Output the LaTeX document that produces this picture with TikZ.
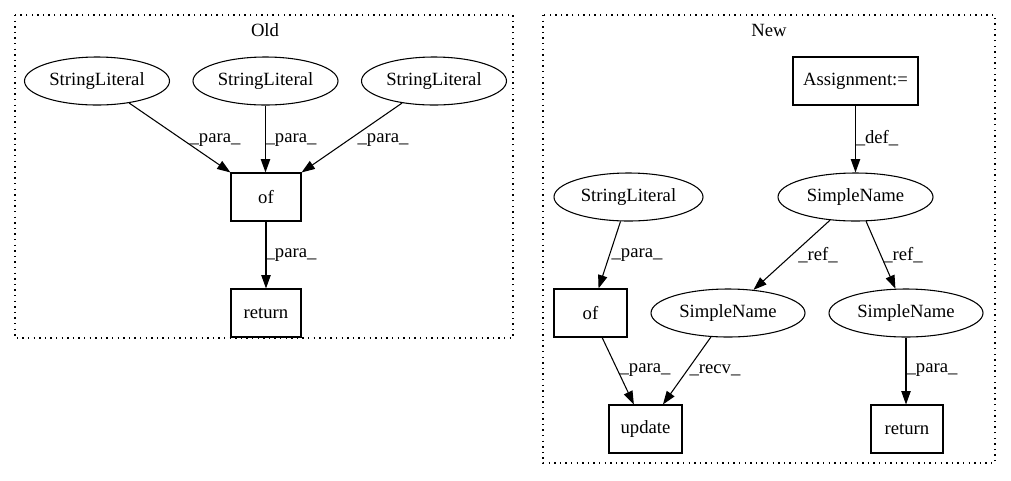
\documentclass[tikz,border=0pt]{standalone}
\usepackage{fontspec}
\setmainfont{Liberation Serif}
\usetikzlibrary{shapes.geometric,arrows.meta}
\begin{document}
\begin{tikzpicture}[x=0.75pt,y=-0.75pt,
  every node/.style={font=\fontsize{14pt}{16pt}\selectfont, inner sep=0pt},
  ell/.style={draw, ellipse, minimum width=108.75pt, minimum height=36pt, line width=0.8pt},
  box/.style={draw, rectangle, minimum height=36pt, line width=0.8pt},
  arr/.style={line width=0.8pt, -{Triangle[length=10pt,width=7pt]}},
  lbl/.style={fill=none},
  cluster/.style={line width=0.8pt, dash pattern=on 1pt off 3.2pt}]
\useasboundingbox (0,0) rectangle (1011,480);
% clusters
\draw[cluster] (15,15) rectangle (513,338);
\node (oldt) at (265,30) {Old};
\draw[cluster] (543,15) rectangle (995,463);
\node (newt) at (769,30) {New};
% Old nodes
\node[ell] (sl1) at (97,81) {StringLiteral};
\node[ell] (sl2) at (265.5,81) {StringLiteral};
\node[ell] (sl3) at (434,81) {StringLiteral};
\node[box, minimum width=52.5pt] (of1) at (266,197) {of};
\node[box, minimum width=52.5pt] (ret1) at (266,313) {return};
% Old edges
\draw[arr] (sl1) -- (of1.north west);
\draw[arr] (sl2) -- (sl2 |- of1.north);
\draw[arr] (sl3) -- (of1.north east);
\draw[arr] (of1) -- (ret1);
\node[lbl] (l1) at (215,140) {\_para\_};
\node[lbl] (l2) at (291,140) {\_para\_};
\node[lbl] (l3) at (383,140) {\_para\_};
\node[lbl] (l4) at (291,255) {\_para\_};
% New nodes
\node[box, minimum width=93.75pt] (asg) at (855.5,81) {Assignment:=};
\node[ell, minimum width=116.25pt] (snt) at (855.5,197) {SimpleName};
\node[ell, minimum width=111.75pt] (sl4) at (628.5,197) {StringLiteral};
\node[box, minimum width=54.75pt] (of2) at (590.5,313) {of};
\node[ell, minimum width=115.5pt] (snm) at (728,313) {SimpleName};
\node[ell, minimum width=115.5pt] (snr) at (906,313) {SimpleName};
\node[box, minimum width=54.75pt] (upd) at (645.5,429) {update};
\node[box, minimum width=54pt] (ret2) at (907,429) {return};
% New edges
\draw[arr] (asg) -- (snt);
\draw[arr] (sl4) -- (of2);
\draw[arr] (snt) -- (snm);
\draw[arr] (snt) -- (snr);
\draw[arr] (of2) -- (upd);
\draw[arr] (snm) -- (upd);
\draw[arr] (snr) -- (snr |- ret2.north);
\node[lbl] (l5) at (877,138) {\_def\_};
\node[lbl] (l6) at (637,255) {\_para\_};
\node[lbl] (l7) at (818,255) {\_ref\_};
\node[lbl] (l8) at (903,255) {\_ref\_};
\node[lbl] (l9) at (645,370) {\_para\_};
\node[lbl] (l10) at (715,370) {\_recv\_};
\node[lbl] (l11) at (932,370) {\_para\_};
\end{tikzpicture}
\end{document}
